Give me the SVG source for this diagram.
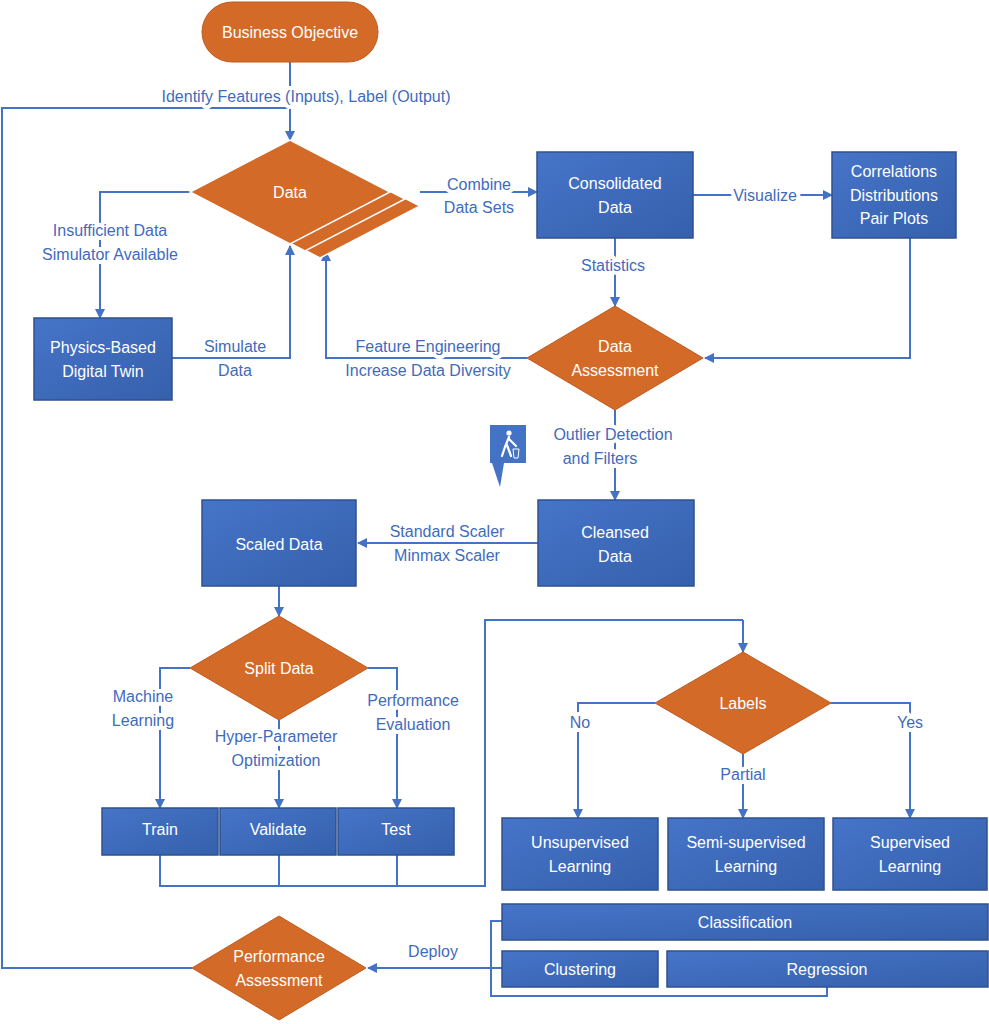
<svg xmlns="http://www.w3.org/2000/svg" width="989" height="1024" viewBox="0 0 989 1024">
<defs>
<linearGradient id="bg" x1="0" y1="0" x2="1" y2="1"><stop offset="0" stop-color="#4674C8"/><stop offset="1" stop-color="#3560AC"/></linearGradient>
<marker id="ar" viewBox="0 0 10 10" refX="9" refY="5" markerWidth="5" markerHeight="5" orient="auto"><path d="M0,0L10,5L0,10z" fill="#4472C4"/></marker>
<style>
.b{fill:url(#bg);stroke:#2F528F;stroke-width:1.5}
.o{fill:#D46A28;stroke:#C05A1E;stroke-width:1}
.ow{fill:#D46A28;stroke:#fff;stroke-width:1.5}
text{font-family:"Liberation Sans",Arial,sans-serif;font-size:16px;text-anchor:middle;dominant-baseline:central}
.w{fill:#fff}
.l{fill:#3F6BBD;paint-order:stroke;stroke:#fff;stroke-width:8;stroke-linejoin:round}
.c{fill:none;stroke:#4472C4;stroke-width:2}
.a{marker-end:url(#ar)}
</style>
</defs>
<g id="connectors">
<path class="c a" d="M290,62V140"/>
<path class="c" d="M192,968H2V108H290"/>
<path class="c a" d="M200,192H100V318"/>
<path class="c a" d="M172,358H290V246"/>
<path class="c a" d="M527,358H326V252"/>
<path class="c a" d="M420,192H537"/>
<path class="c a" d="M693,195H832"/>
<path class="c a" d="M910,238V358H705"/>
<path class="c a" d="M615,238V306"/>
<path class="c a" d="M615,410V500"/>
<path class="c a" d="M538,543H358"/>
<path class="c a" d="M279,586V616"/>
<path class="c a" d="M190,668H160V808"/>
<path class="c a" d="M279,720V808"/>
<path class="c a" d="M368,668H397V808"/>
<path class="c" d="M160,855V886H485V620H743"/>
<path class="c a" d="M743,620V652"/>
<path class="c" d="M279,855V886M397,855V886"/>
<path class="c a" d="M655,703H578V818"/>
<path class="c a" d="M743,754V818"/>
<path class="c a" d="M831,703H910V818"/>
<path class="c" d="M502,921H491V996H827V987"/>
<path class="c a" d="M502,968H368"/>
<text class="l" x="306" y="96">Identify Features (Inputs), Label (Output)</text>
<text class="l" x="110" y="230">Insufficient Data</text>
<text class="l" x="110" y="254">Simulator Available</text>
<text class="l" x="235" y="346">Simulate</text>
<text class="l" x="235" y="370">Data</text>
<text class="l" x="428" y="346">Feature Engineering</text>
<text class="l" x="428" y="370">Increase Data Diversity</text>
<text class="l" x="479" y="184">Combine</text>
<text class="l" x="479" y="207">Data Sets</text>
<text class="l" x="765" y="195">Visualize</text>
<text class="l" x="613" y="265">Statistics</text>
<text class="l" x="613" y="434">Outlier Detection</text>
<text class="l" x="600" y="458">and Filters</text>
<text class="l" x="447" y="531">Standard Scaler</text>
<text class="l" x="447" y="555">Minmax Scaler</text>
<text class="l" x="143" y="696">Machine</text>
<text class="l" x="143" y="720">Learning</text>
<text class="l" x="276" y="736">Hyper-Parameter</text>
<text class="l" x="276" y="760">Optimization</text>
<text class="l" x="413" y="700">Performance</text>
<text class="l" x="413" y="724">Evaluation</text>
<text class="l" x="580" y="722">No</text>
<text class="l" x="743" y="774">Partial</text>
<text class="l" x="910" y="722">Yes</text>
<text class="l" x="433" y="951">Deploy</text>
</g>
<g id="business"><rect x="202" y="2" width="176" height="60" rx="30" class="o"/><text class="w" x="290" y="32">Business Objective</text></g>
<g id="data">
<path class="ow" d="M320,154L420,206L320,258L220,206z"/>
<path class="ow" d="M305,147L405,199L305,251L205,199z"/>
<path class="ow" d="M290,140L390,192L290,244L190,192z"/>
<text class="w" x="290" y="192">Data</text></g>
<g id="physics"><rect class="b" x="34" y="318" width="138" height="82"/><text class="w" x="103" y="347">Physics-Based</text><text class="w" x="103" y="371">Digital Twin</text></g>
<g id="consolidated"><rect class="b" x="537" y="152" width="156" height="86"/><text class="w" x="615" y="183">Consolidated</text><text class="w" x="615" y="207">Data</text></g>
<g id="correlations"><rect class="b" x="832" y="152" width="124" height="86"/><text class="w" x="894" y="171">Correlations</text><text class="w" x="894" y="195">Distributions</text><text class="w" x="894" y="218">Pair Plots</text></g>
<g id="assessment"><path class="o" d="M615,306L703,358L615,410L527,358z"/><text class="w" x="615" y="346">Data</text><text class="w" x="615" y="370">Assessment</text></g>
<g id="icon"><path d="M490,425H526V463H504L500,487L492,463H490z" fill="#4472C4"/>
<circle cx="509" cy="433" r="2.6" fill="#fff"/><path d="M509,437L505,447L502,456M507,445L511,456M509,439L516,446" stroke="#fff" stroke-width="2.2" fill="none" stroke-linecap="round"/><path d="M513,449H519L518,458H514z" fill="none" stroke="#fff" stroke-width="1"/></g>
<g id="cleansed"><rect class="b" x="538" y="500" width="156" height="86"/><text class="w" x="615" y="532">Cleansed</text><text class="w" x="615" y="556">Data</text></g>
<g id="scaled"><rect class="b" x="202" y="500" width="154" height="86"/><text class="w" x="279" y="544">Scaled Data</text></g>
<g id="split"><path class="o" d="M279,616L368,668L279,720L190,668z"/><text class="w" x="279" y="668">Split Data</text></g>
<g id="train"><rect class="b" x="102" y="808" width="116" height="47"/><text class="w" x="160" y="829">Train</text></g>
<g id="validate"><rect class="b" x="220" y="808" width="116" height="47"/><text class="w" x="278" y="829">Validate</text></g>
<g id="test"><rect class="b" x="338" y="808" width="116" height="47"/><text class="w" x="396" y="829">Test</text></g>
<g id="labels"><path class="o" d="M743,652L831,703L743,754L655,703z"/><text class="w" x="743" y="703">Labels</text></g>
<g id="unsup"><rect class="b" x="502" y="818" width="156" height="72"/><text class="w" x="580" y="842">Unsupervised</text><text class="w" x="580" y="866">Learning</text></g>
<g id="semi"><rect class="b" x="668" y="818" width="156" height="72"/><text class="w" x="746" y="842">Semi-supervised</text><text class="w" x="746" y="866">Learning</text></g>
<g id="sup"><rect class="b" x="833" y="818" width="154" height="72"/><text class="w" x="910" y="842">Supervised</text><text class="w" x="910" y="866">Learning</text></g>
<g id="classification"><rect class="b" x="502" y="904" width="486" height="36"/><text class="w" x="745" y="922">Classification</text></g>
<g id="clustering"><rect class="b" x="502" y="951" width="156" height="36"/><text class="w" x="580" y="969">Clustering</text></g>
<g id="regression"><rect class="b" x="667" y="951" width="321" height="36"/><text class="w" x="827" y="969">Regression</text></g>
<g id="perf"><path class="o" d="M279,916L366,968L279,1020L192,968z"/><text class="w" x="279" y="956">Performance</text><text class="w" x="279" y="980">Assessment</text></g>
</svg>
